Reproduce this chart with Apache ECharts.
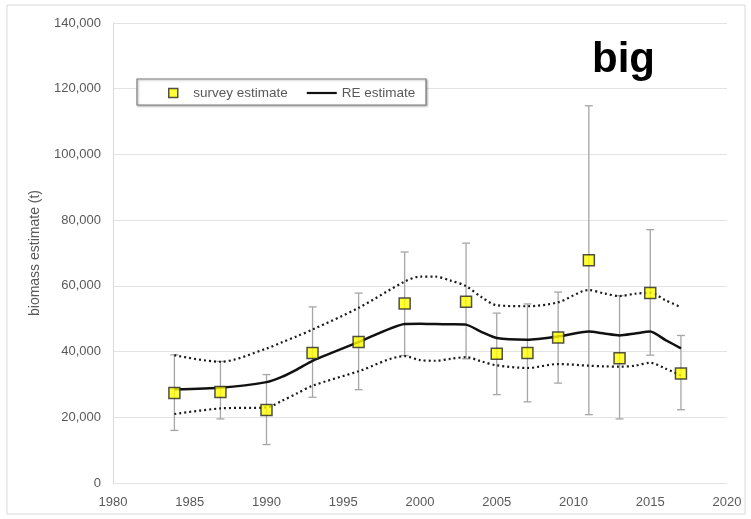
<!DOCTYPE html>
<html>
<head>
<meta charset="utf-8">
<script src="https://cdn.jsdelivr.net/npm/echarts@6/dist/echarts.min.js"></script>
<style>html,body{margin:0;padding:0;background:#fff}#chart{width:751px;height:519px}</style>
</head>
<body>
<div id="chart"></div>
<script>
const years = [1984, 1987, 1990, 1993, 1996, 1999, 2003, 2005, 2007, 2009, 2011, 2013, 2015, 2017];
const survey = [27400, 27700, 22200, 39600, 42900, 54600, 55200, 39300, 39600, 44300, 67800, 38000, 57800, 33300];
const surveyLow = [16000, 19500, 11700, 26100, 28400, 38800, 37800, 26900, 24700, 30400, 20800, 19500, 38900, 22300];
const surveyHigh = [39000, 37000, 33000, 53600, 57800, 70300, 73000, 51700, 54500, 58100, 114800, 57000, 77100, 44900];
const reYears = [1984, 1987, 1990, 1991, 1992, 1993, 1996, 1999, 2000, 2001, 2002, 2003, 2004, 2005, 2007, 2009, 2011, 2012, 2013, 2014, 2015, 2016, 2017];
const reEst = [28500, 29000, 30700, 32300, 34600, 37200, 42900, 48400, 48500, 48400, 48300, 48200, 46000, 44100, 43600, 44600, 46100, 45500, 44900, 45500, 46100, 43500, 41000];
const reHigh = [38900, 36900, 40900, 42800, 44700, 46700, 53300, 61300, 62800, 62800, 61600, 59900, 56600, 54100, 53800, 55000, 58700, 57700, 56900, 57600, 57900, 55600, 53500];
const reLow = [21000, 22700, 23000, 25000, 27300, 29600, 34000, 38600, 37400, 37200, 37800, 38300, 37000, 35800, 35000, 36200, 35700, 35500, 35400, 35700, 36600, 34800, 32700];
const xTicks = {min: 1980, max: 2020, interval: 5};
const yTicks = {min: 0, max: 140000, interval: 20000};

const pair = (xs, arr) => xs.map((y, i) => [y, arr[i]]);
const grey = '#595959';
const font = 'Liberation Sans, Arial, sans-serif';

const chart = echarts.init(document.getElementById('chart'));
chart.setOption({
  animation: false,
  backgroundColor: '#fff',
  textStyle: {fontFamily: font},
  title: {
    text: 'big', left: 587, top: 34,
    textStyle: {fontSize: 42, fontWeight: 'bold', color: '#000', fontFamily: font}
  },
  graphic: [
    {type: 'rect', z: 0, silent: true, shape: {x: 7, y: 5, width: 738, height: 509},
     style: {fill: 'none', stroke: '#d9d9d9', lineWidth: 1}},
    {type: 'rect', z: 3, silent: true, shape: {x: 137, y: 79, width: 289, height: 26},
     style: {fill: '#fff', stroke: '#7f7f7f', lineWidth: 1.2, shadowBlur: 2, shadowColor: 'rgba(0,0,0,0.3)', shadowOffsetX: 1, shadowOffsetY: 1}}
  ],
  legend: {
    z: 4, left: 168, top: 86, padding: 0, itemGap: 19, itemWidth: 30, itemHeight: 9,
    textStyle: {color: grey, fontSize: 13.5, fontFamily: font},
    data: [
      {name: 'survey estimate', icon: 'path://M0,0L10,0L10,10L0,10Z',
       itemStyle: {color: '#ffff00', borderColor: '#262626', borderWidth: 1.5}},
      {name: 'RE estimate', icon: 'path://M0,0L30,0L30,2.2L0,2.2Z',
       itemStyle: {color: '#111', borderWidth: 0}}
    ]
  },
  grid: {left: 113, right: 24, top: 23, bottom: 36},
  xAxis: {
    type: 'value', min: xTicks.min, max: xTicks.max, interval: xTicks.interval,
    axisLine: {show: false}, axisTick: {show: false}, splitLine: {show: false},
    axisLabel: {color: grey, fontSize: 13, margin: 13, formatter: v => String(v)}
  },
  yAxis: {
    type: 'value', min: yTicks.min, max: yTicks.max, interval: yTicks.interval,
    name: 'biomass estimate (t)', nameLocation: 'middle', nameGap: 71, nameRotate: 90,
    nameTextStyle: {color: grey, fontSize: 14},
    axisLine: {show: true, lineStyle: {color: '#d9d9d9'}}, axisTick: {show: false},
    splitLine: {lineStyle: {color: '#e3e3e3', width: 1.2}},
    axisLabel: {color: grey, fontSize: 13, margin: 12,
      formatter: v => v.toLocaleString('en-US')}
  },
  series: [
    {
      type: 'custom', name: 'errors', z: 2,
      data: years.map((y, i) => [y, surveyLow[i], surveyHigh[i]]),
      renderItem: (params, api) => {
        const x = api.value(0);
        const lo = api.coord([x, api.value(1)]);
        const hi = api.coord([x, api.value(2)]);
        const w = 4;
        const st = {stroke: '#a6a6a6', lineWidth: 1.3};
        return {type: 'group', children: [
          {type: 'line', shape: {x1: lo[0], y1: lo[1], x2: hi[0], y2: hi[1]}, style: st},
          {type: 'line', shape: {x1: lo[0] - w, y1: lo[1], x2: lo[0] + w, y2: lo[1]}, style: st},
          {type: 'line', shape: {x1: hi[0] - w, y1: hi[1], x2: hi[0] + w, y2: hi[1]}, style: st}
        ]};
      }
    },
    {
      type: 'line', name: 'upper', data: pair(reYears, reHigh), smooth: 0.3, symbol: 'none', z: 3,
      lineStyle: {color: '#1a1a1a', width: 2.2, type: [2, 3]}
    },
    {
      type: 'line', name: 'lower', data: pair(reYears, reLow), smooth: 0.3, symbol: 'none', z: 3,
      lineStyle: {color: '#1a1a1a', width: 2.2, type: [2, 3]}
    },
    {
      type: 'line', name: 'RE estimate', data: pair(reYears, reEst), smooth: 0.2, symbol: 'none', z: 4,
      itemStyle: {color: '#111'},
      lineStyle: {color: '#111', width: 2.5}
    },
    {
      type: 'scatter', name: 'survey estimate', data: pair(years, survey), symbol: 'rect', symbolSize: 11, z: 5,
      itemStyle: {color: '#ffff00', borderColor: '#262626', borderWidth: 1.5}
    }
  ]
});
</script>
</body>
</html>
